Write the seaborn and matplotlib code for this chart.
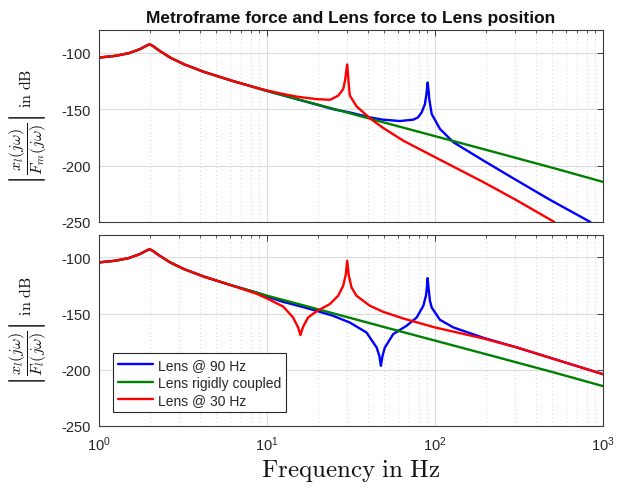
import matplotlib
matplotlib.use("Agg")
import matplotlib.pyplot as plt
import matplotlib.ticker as mticker
import seaborn as sns

# ---------------- data ----------------
# shared low-frequency part (all curves coincide up to ~6 Hz)
low_f = [1.0, 1.25, 1.5, 1.75, 1.9, 2.0, 2.1, 2.25, 2.65, 3.2, 4.2, 6.2]
low_db = [-104.4, -102.9, -100.6, -97.0, -94.2, -92.6, -94.3, -97.6, -104.4, -110.3, -117.0, -125.0]

# rigidly coupled lens (same in both panels)
green_f = low_f + [8.7, 10, 20, 50, 100, 200, 500, 1000]
green_db = low_db + [-131.3, -134.0, -146.0, -162.0, -174.0, -186.0, -202.0, -214.5]

# top panel: metroframe force -> lens position
top_red_f = low_f + [8.7, 10, 12.4, 15, 19.7, 23.7, 26.5, 28.4, 29.2, 29.7, 30.0, 30.3,
                     30.7, 31.1, 34.1, 41, 49.2, 64.7, 100, 194, 307, 513]
top_red_db = low_db + [-131.3, -133.5, -136.6, -139.0, -141.2, -141.8, -138.2, -132.4, -124.0,
                       -115.0, -110.5, -118.0, -129.5, -138.0, -147.6, -158.2, -166.8, -178.0,
                       -192.6, -214.7, -230.9, -250.0]
top_blue_f = low_f + [8.7, 10, 20, 25, 31.1, 41, 49, 61.8, 74.3, 79.2, 83.3, 87.1, 88.9, 90.4,
                      91.3, 92.4, 95.5, 107, 128.6, 194, 307, 485, 840]
top_blue_db = low_db + [-131.3, -134.0, -146.3, -150.3, -153.0, -157.4, -159.4, -160.6, -159.4,
                        -157.4, -152.9, -145.6, -136.8, -126.5, -132.0, -141.0, -154.4, -167.6,
                        -179.4, -195.6, -213.2, -230.5, -250.0]

# bottom panel: lens force -> lens position
bot_red_f = low_f + [8.7, 10, 12.46, 14.29, 15.31, 15.8, 16.4, 17.56, 19.69, 23.65, 26.51, 28.4,
                     29.46, 30.0, 30.7, 31.84, 34.1, 40.96, 49.2, 64.7, 100, 194.2, 306.9, 1000]
bot_red_db = low_db + [-132.4, -136.5, -143.6, -153.4, -162.3, -169.1, -161.7, -153.4, -148.0,
                       -141.5, -134.1, -125.2, -114.8, -103.0, -116.3, -126.7, -134.1, -143.0,
                       -148.4, -154.3, -162.3, -172.1, -180.1, -203.9]
bot_blue_f = low_f + [8.7, 10, 12.46, 15.8, 19.7, 24.7, 31.1, 39.1, 44.9, 46.6, 47.6, 48.7, 50.3,
                      56.4, 67.7, 77.8, 85.2, 88.3, 89.7, 90.4, 91.3, 93.3, 95.5, 107, 128.6,
                      194, 307, 1000]
bot_blue_db = low_db + [-131.3, -134.8, -139.5, -143.5, -147.5, -151.9, -157.9, -166.8, -180.1,
                        -187.5, -196.4, -187.5, -180.1, -168.2, -160.8, -153.4, -143.0, -134.0,
                        -125.0, -118.4, -126.0, -138.6, -144.5, -155.5, -162.3, -171.5, -180.1,
                        -203.9]

labels = ["Lens @ 90 Hz", "Lens rigidly coupled", "Lens @ 30 Hz"]
colors = ["#0000ff", "#008000", "#ff0000"]
y_ticks = [-250, -200, -150, -100]
x_ticks = [1, 10, 100, 1000]

# ---------------- style ----------------
sns.set_theme(style="white")
plt.rcParams["font.family"] = ["Liberation Sans", "DejaVu Sans"]
plt.rcParams["mathtext.fontset"] = "cm"
plt.rcParams["axes.unicode_minus"] = False

fig = plt.figure(figsize=(6.22, 4.89), dpi=100)
ax1 = fig.add_axes([0.1592, 0.5440, 0.8103, 0.3926])
ax2 = fig.add_axes([0.1592, 0.1268, 0.8103, 0.3906])

series_top = [(top_blue_f, top_blue_db), (green_f, green_db), (top_red_f, top_red_db)]
series_bot = [(bot_blue_f, bot_blue_db), (green_f, green_db), (bot_red_f, bot_red_db)]

for ax, series in ((ax1, series_top), (ax2, series_bot)):
    for (f, db), lab, col in zip(series, labels, colors):
        sns.lineplot(x=f, y=db, ax=ax, color=col, lw=1.7, label=lab,
                     sort=False, estimator=None, legend=False)
    ax.set_xscale("log")
    ax.set_xlim(1, 1000)
    ax.set_ylim(-250, -80)
    ax.set_yticks(y_ticks)
    ax.set_xticks(x_ticks)
    ax.xaxis.set_minor_locator(mticker.LogLocator(base=10, subs=range(2, 10), numticks=20))
    ax.xaxis.set_minor_formatter(mticker.NullFormatter())
    ax.grid(True, which="major", color="#dcdcdc", lw=0.8, ls="-")
    ax.grid(True, which="minor", axis="x", color="#cfcfcf", lw=0.7, ls=(0, (1, 3)))
    ax.set_axisbelow(True)
    for sp in ax.spines.values():
        sp.set_color("#3a3a3a")
        sp.set_linewidth(0.8)
        sp.set_visible(True)
    ax.tick_params(which="both", direction="in", top=True, right=True,
                   colors="#3a3a3a", labelcolor="#262626", labelsize=10.5)
    ax.tick_params(which="major", length=4, width=0.7, pad=6)
    ax.tick_params(which="minor", length=2.5, width=0.6)
    ax.set_xlabel("")
    ax.set_ylabel("")

ax1.tick_params(axis="x", labelbottom=False)
ax1.set_title("Metroframe force and Lens force to Lens position",
              fontsize=12.5, fontweight="bold", pad=6, color="#111111")

ax1.set_ylabel(r"$\left|\dfrac{x_l(j\omega)}{F_m(j\omega)}\right|\ \mathrm{in\ dB}$",
               fontsize=11.5, math_fontfamily="cm", color="#111111")
ax2.set_ylabel(r"$\left|\dfrac{x_l(j\omega)}{F_l(j\omega)}\right|\ \mathrm{in\ dB}$",
               fontsize=11.5, math_fontfamily="cm", color="#111111")
ax1.yaxis.set_label_coords(-0.102, 0.5)
ax2.yaxis.set_label_coords(-0.102, 0.5)
ax2.set_xlabel(r"$\mathrm{Frequency\ in\ Hz}$", fontsize=18, math_fontfamily="cm",
               color="#111111", labelpad=3)

leg = ax2.legend(loc="lower left", bbox_to_anchor=(0.028, 0.073), frameon=True,
                 fancybox=False, edgecolor="#262626", framealpha=1, fontsize=10,
                 handlelength=2.5, handletextpad=0.35, labelspacing=0.25,
                 borderpad=0.35, borderaxespad=0)
leg.get_frame().set_linewidth(0.8)

fig.savefig("out.png", dpi=100)
